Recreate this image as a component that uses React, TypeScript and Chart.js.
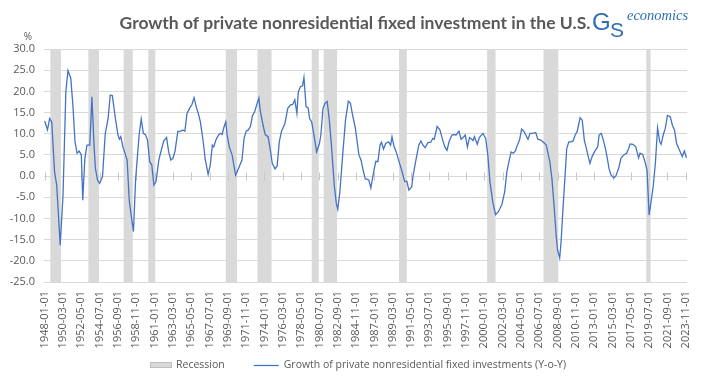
import React, { useEffect, useRef } from 'react';
import { Chart, registerables } from 'chart.js';

Chart.register(...registerables);

const TITLE = 'Growth of private nonresidential fixed investment in the U.S.';
const SERIES_LABEL = 'Growth of private nonresidential fixed investments (Y-o-Y)';
const RECESSION_LABEL = 'Recession';
const Y_UNIT = '%';
const BASE_YEAR = 1948; // month offsets below count from 1948-01

// x-axis tick labels (every 26 months)
const tickLabels = [
  '1948-01-01', '1950-03-01', '1952-05-01', '1954-07-01', '1956-09-01', '1958-11-01',
  '1961-01-01', '1963-03-01', '1965-05-01', '1967-07-01', '1969-09-01', '1971-11-01',
  '1974-01-01', '1976-03-01', '1978-05-01', '1980-07-01', '1982-09-01', '1984-11-01',
  '1987-01-01', '1989-03-01', '1991-05-01', '1993-07-01', '1995-09-01', '1997-11-01',
  '2000-01-01', '2002-03-01', '2004-05-01', '2006-07-01', '2008-09-01', '2010-11-01',
  '2013-01-01', '2015-03-01', '2017-05-01', '2019-07-01', '2021-09-01', '2023-11-01',
];

// observation dates, months since 1948-01
const obsMonth = [
  0, 4, 7, 10, 14, 17, 22, 26, 30, 33,
  37, 40, 43, 46, 49, 52, 54, 57, 60, 64,
  67, 70, 72, 75, 78, 82, 86, 90, 93, 96,
  100, 104, 106, 108, 111, 113, 117, 120, 123, 126,
  129, 134, 137, 140, 143, 146, 149, 152, 155, 158,
  162, 166, 169, 173, 176, 179, 182, 185, 189, 192,
  196, 199, 202, 206, 209, 212, 215, 218, 221, 225,
  228, 230, 232, 235, 238, 240, 243, 246, 249, 252,
  254, 257, 259, 262, 266, 271, 274, 278, 280, 283,
  286, 289, 292, 295, 298, 302, 304, 306,
  310, 313, 317, 320, 323, 327, 330, 333, 336, 341,
  345, 349, 352, 355, 358, 360, 363, 366, 368, 371,
  374, 376, 379, 383, 386, 390, 392, 395, 398, 401,
  404, 407, 411, 414, 416, 419, 423, 427, 431, 434,
  437, 441, 446, 449, 452, 455, 460, 463, 467, 470,
  473, 476, 478, 481, 484, 488, 491, 493, 496, 499,
  503, 506, 508, 511, 514, 517, 521, 523, 527, 531,
  534, 537, 540, 544, 548, 551, 553, 557, 561, 565,
  568, 571, 574, 578, 581, 584, 588, 591, 595, 597,
  600, 603, 606, 608,
  610, 614, 617, 622, 626, 629, 632, 636, 640, 644,
  649, 653, 656, 659, 662, 665, 668, 670, 674, 677,
  680, 683, 686, 689, 693, 697, 700, 704, 708, 712,
  714, 717, 720, 723, 726, 728, 731, 733, 736, 739,
  741, 744, 747, 750, 753, 756, 760, 763, 766, 769,
  771, 774, 777, 781, 785, 787, 790, 793, 796, 799,
  801, 804, 808, 811, 815, 818, 822, 826, 829, 831,
  835, 839, 843, 845, 849, 852, 855, 858, 860, 864,
  867, 870, 873, 875, 878, 881, 884, 888, 891, 894,
  897, 900, 903, 905, 908, 911,
];

// Y-o-Y growth, %
const growth = [
  13.0, 10.9, 13.6, 12.8, 1.0, -2.1, -16.3, -4.5, 19.9, 24.9,
  23.1, 16.8, 8.1, 5.4, 5.9, 5.0, -5.7, 4.2, 7.3, 7.3,
  18.7, 7.3, 1.8, -0.9, -1.7, -0.2, 10.1, 13.6, 19.1, 19.0,
  14.0, 9.7, 8.7, 9.3, 6.9, 5.9, 3.8, -5.7, -9.6, -13.1,
  -0.9, 9.7, 13.5, 10.1, 9.8, 8.5, 3.4, 2.6, -2.1, -1.3,
  3.8, 6.5, 8.3, 9.1, 5.7, 3.8, 4.2, 5.9, 10.6, 10.5,
  10.9, 10.6, 14.8, 16.1, 16.9, 18.5, 16.4, 14.8, 12.8, 8.1,
  3.8, 2.2, 0.4, 2.6, 7.3, 6.9, 8.5, 9.5, 10.1, 9.8,
  11.3, 12.8, 9.7, 6.9, 5.0, 0.2, 1.4, 3.0, 3.8, 8.9,
  10.6, 10.9, 11.7, 14.3, 15.2, 17.4, 18.4, 15.4,
  12.0, 9.8, 9.3, 6.5, 3.0, 1.7, 2.4, 8.1, 10.5, 12.4,
  16.0, 16.8, 16.9, 18.0, 14.8, 19.9, 21.1, 21.3, 23.3, 16.4,
  16.1, 13.6, 12.8, 8.9, 5.7, 7.7, 9.7, 16.0, 17.2, 17.6,
  13.2, 7.3, -2.1, -6.5, -7.8, -3.7, 5.0, 13.2, 17.7, 17.2,
  14.4, 11.3, 5.0, 3.8, 1.4, -0.6, -0.9, -2.8, 1.0, 3.5,
  3.4, 7.3, 8.0, 6.4, 7.7, 8.1, 7.3, 9.3, 6.9, 5.7,
  3.4, 1.8, 0.6, -1.3, -1.2, -3.3, -2.5, 0.2, 3.8, 7.3,
  8.3, 7.3, 6.7, 7.9, 8.0, 8.9, 8.7, 11.7, 10.9, 8.5,
  6.9, 6.1, 8.1, 9.7, 9.8, 9.7, 10.6, 8.7, 9.3, 9.7,
  6.9, 9.1, 8.7, 8.4,
  9.3, 7.5, 9.1, 10.1, 8.9, 5.0, -1.3, -6.1, -9.1, -8.4,
  -6.7, -3.7, 1.0, 3.4, 5.7, 5.4, 5.9, 6.9, 8.5, 11.1,
  10.6, 9.7, 8.7, 10.1, 10.1, 10.3, 8.7, 8.5, 8.0, 7.3,
  5.7, 3.4, -0.6, -6.9, -13.9, -17.5, -19.3, -15.5, -6.9, 1.0,
  6.5, 8.1, 8.1, 8.3, 9.7, 10.6, 13.8, 13.2, 8.5, 6.5,
  5.0, 3.0, 4.6, 5.9, 6.9, 9.7, 10.1, 8.5, 6.5, 3.8,
  1.8, 0.2, -0.4, 0.1, 2.0, 4.2, 5.0, 5.4, 6.5, 7.6,
  7.5, 6.9, 4.3, 5.4, 5.1, 3.4, 1.4, -9.2, -6.9, -2.1,
  3.4, 11.4, 8.1, 7.5, 9.7, 11.3, 14.3, 14.0, 12.0, 10.9,
  7.7, 6.5, 5.4, 4.6, 5.9, 4.3,
];

// recession shading (as shown on the chart's axis)
const recessionStart = [
  '1948-09', '1953-03', '1957-05', '1960-04', '1969-06', '1973-03',
  '1979-08', '1981-01', '1989-12', '2000-05', '2007-01', '2019-03',
];
const recessionEnd = [
  '1949-12', '1954-06', '1958-06', '1961-02', '1970-10', '1974-11',
  '1980-06', '1982-08', '1990-11', '2001-05', '2008-10', '2019-09',
];

const Y_MIN = -25;
const Y_MAX = 30;
const Y_STEP = 5;

const LINE_COLOR = '#4472c4';
const GRID_COLOR = '#d9d9d9';
const BAND_COLOR = '#d9d9d9';
const TEXT_COLOR = '#595959';
const LOGO_COLOR = '#2f6db5';
const FONT = "'Open Sans', sans-serif";

function monthIndex(s: string): number {
  const [y, m] = s.split('-').map(Number);
  return (y - BASE_YEAR) * 12 + (m - 1);
}

const tickMonths = tickLabels.map(monthIndex);

const decorPlugin = {
  id: 'decor',
  beforeDatasetsDraw(chart: any) {
    const { ctx, chartArea, scales } = chart;
    const xs = scales.x;
    const ys = scales.y;
    ctx.save();
    ctx.fillStyle = BAND_COLOR;
    recessionStart.forEach((s, i) => {
      const x0 = xs.getPixelForValue(monthIndex(s));
      const x1 = xs.getPixelForValue(monthIndex(recessionEnd[i]));
      ctx.fillRect(x0, chartArea.top, x1 - x0, chartArea.bottom - chartArea.top);
    });
    const y0 = Math.round(ys.getPixelForValue(0)) + 0.5;
    ctx.strokeStyle = '#c8c8c8';
    ctx.lineWidth = 1;
    ctx.beginPath();
    xs.ticks.forEach((t: any) => {
      const px = Math.round(xs.getPixelForValue(t.value)) + 0.5;
      ctx.moveTo(px, y0 - 4);
      ctx.lineTo(px, y0 + 4);
    });
    ctx.stroke();
    ctx.restore();
  },
  afterDraw(chart: any) {
    const { ctx, chartArea } = chart;
    ctx.save();
    // title
    ctx.fillStyle = TEXT_COLOR;
    ctx.font = 'bold 17.5px Lato';
    ctx.textAlign = 'center';
    ctx.textBaseline = 'middle';
    ctx.fillText(TITLE, 355, 23);
    // unit
    ctx.font = `10px ${FONT}`;
    ctx.fillText(Y_UNIT, 28, chartArea.top - 12);
    // logo
    ctx.fillStyle = LOGO_COLOR;
    ctx.textAlign = 'left';
    ctx.textBaseline = 'alphabetic';
    ctx.font = "24px 'Liberation Sans'";
    ctx.fillText('G', 592, 30);
    ctx.font = "21px 'Liberation Sans'";
    ctx.fillText('S', 610, 37);
    ctx.font = "italic 14.5px 'Liberation Serif'";
    ctx.fillText('economics', 627, 20);

    // legend
    const ly = 365;
    ctx.font = `10.5px ${FONT}`;
    ctx.textBaseline = 'middle';
    let lx = 150;
    ctx.fillStyle = BAND_COLOR;
    ctx.fillRect(lx, ly - 3, 22, 6);
    ctx.strokeStyle = '#bfbfbf';
    ctx.lineWidth = 1;
    ctx.strokeRect(lx + 0.5, ly - 2.5, 21, 5);
    lx += 26;
    ctx.fillStyle = TEXT_COLOR;
    ctx.fillText(RECESSION_LABEL, lx, ly);
    lx += ctx.measureText(RECESSION_LABEL).width + 29;
    ctx.strokeStyle = LINE_COLOR;
    ctx.lineWidth = 1.25;
    ctx.beginPath();
    ctx.moveTo(lx, ly + 0.5);
    ctx.lineTo(lx + 25, ly + 0.5);
    ctx.stroke();
    lx += 30;
    ctx.fillText(SERIES_LABEL, lx, ly);
    ctx.restore();
  },
};

export default function App() {
  const canvasRef = useRef<HTMLCanvasElement | null>(null);

  useEffect(() => {
    if (!canvasRef.current) return;
    Chart.defaults.font.family = FONT;
    Chart.defaults.color = TEXT_COLOR;
    const chart = new Chart(canvasRef.current, {
      type: 'line',
      data: {
        datasets: [
          {
            label: SERIES_LABEL,
            data: obsMonth.map((m, i) => ({ x: m, y: growth[i] })),
            borderColor: LINE_COLOR,
            backgroundColor: LINE_COLOR,
            borderWidth: 1.3,
            pointRadius: 0,
            tension: 0,
            fill: false,
          },
        ],
      },
      options: {
        animation: false,
        responsive: false,
        maintainAspectRatio: false,
        layout: { padding: { top: 49, right: 14, bottom: 31, left: 0 } },
        plugins: {
          title: { display: false },
          tooltip: { enabled: false },
          legend: { display: false },
        },
        scales: {
          x: {
            type: 'linear',
            min: -1,
            max: 912,
            afterBuildTicks: (scale: any) => {
              scale.ticks = tickMonths.map((v) => ({ value: v }));
            },
            afterFit: (scale: any) => {
              scale.height = 72;
            },
            grid: { display: false, drawTicks: false },
            border: { display: false },
            ticks: {
              autoSkip: false,
              maxRotation: 90,
              minRotation: 90,
              padding: 9,
              font: { size: 11 },
              color: TEXT_COLOR,
              callback: (value: any) => {
                const idx = tickMonths.indexOf(Number(value));
                return idx >= 0 ? tickLabels[idx] : '';
              },
            },
          },
          y: {
            min: Y_MIN,
            max: Y_MAX,
            afterFit: (scale: any) => {
              scale.width = 44;
            },
            grid: { color: GRID_COLOR, drawTicks: false, lineWidth: 1 },
            border: { display: false },
            ticks: {
              stepSize: Y_STEP,
              padding: 9,
              font: { size: 11 },
              color: TEXT_COLOR,
              callback: (value: any) => Number(value).toFixed(1),
            },
          },
        },
      },
      plugins: [decorPlugin],
    } as any);
    return () => chart.destroy();
  }, []);

  return (
    <div style={{ position: 'fixed', left: 0, top: 0, width: 708, height: 385, background: '#fff' }}>
      <canvas ref={canvasRef} width={708} height={385} />
    </div>
  );
}
